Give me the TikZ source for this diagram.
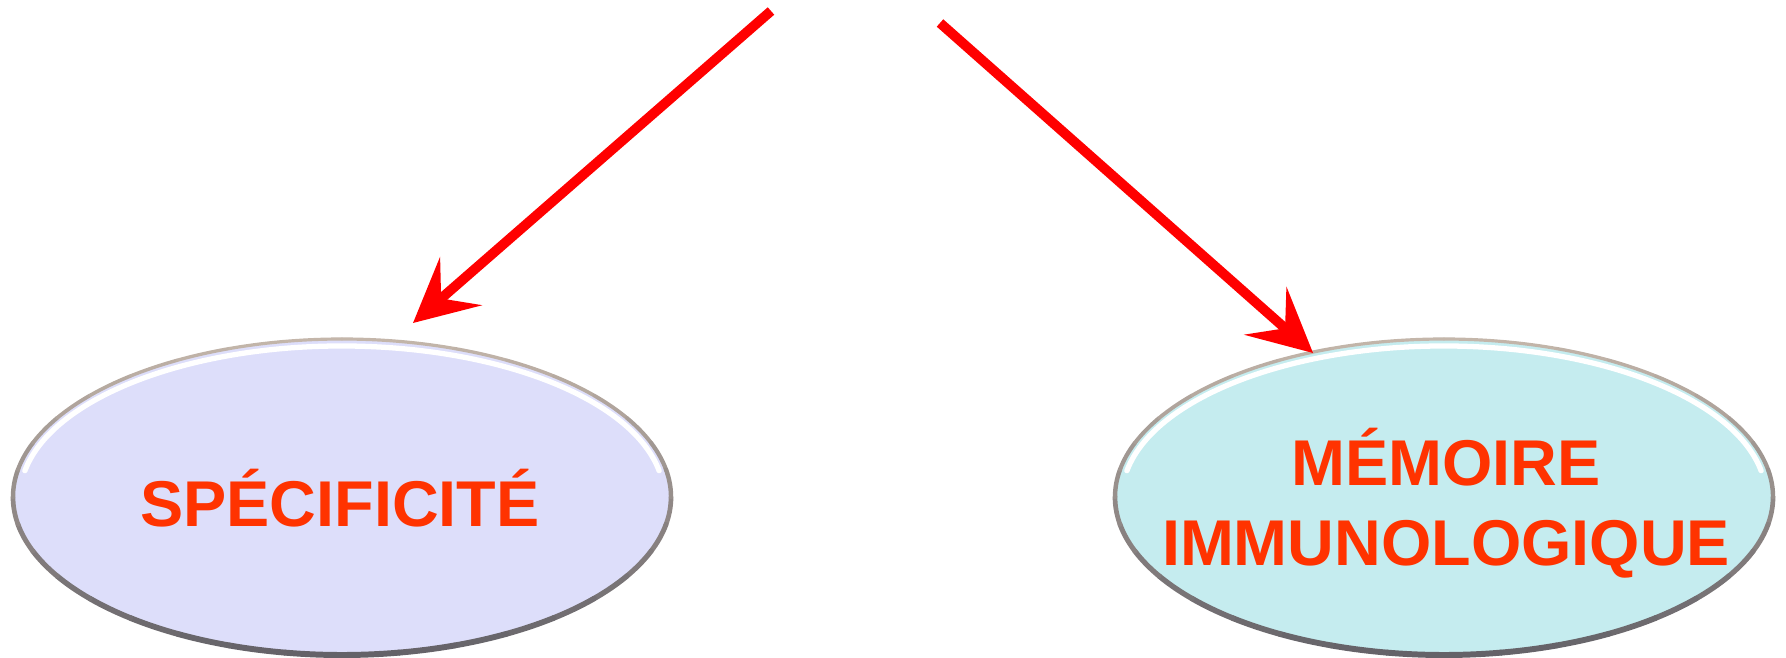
\documentclass[tikz,border=0pt]{standalone}
\usepackage{fontspec}
\setmainfont{Liberation Sans}
\usetikzlibrary{arrows.meta,shapes.geometric}
\definecolor{arrowred}{RGB}{255,0,0}
\definecolor{textred}{RGB}{255,51,0}
\definecolor{lavfill}{RGB}{221,222,250}
\definecolor{cyanfill}{RGB}{197,236,239}
\definecolor{rimtop}{RGB}{196,182,170}
\definecolor{rimbottom}{RGB}{100,98,104}
\tikzset{
  oval/.style={ellipse, draw=none, inner sep=0pt,
    minimum width=6.6cm, minimum height=3.18cm},
  ovaltext/.style={inner sep=0pt, font=\bfseries\fontsize{18.4}{22.6}\selectfont,
    text=textred, align=center},
  bigarrow/.style={draw=arrowred, line width=2.8pt,
    -{Stealth[length=18pt, width=18pt, inset=7.4pt]}},
  highlight/.style={draw=white, line width=1.5pt, line cap=round}
}
\begin{document}
\begin{tikzpicture}[x=0.01cm,y=-0.01cm]
\useasboundingbox (0,0) rectangle (1786,658);
% ovals
\node[oval, fill=lavfill] (spec) at (342,497) {};
\node[oval, fill=cyanfill] (mem) at (1444,497) {};
\foreach \n in {spec,mem}{
  \draw[highlight] (\n.center) ++(190:322 and 151) arc[start angle=190, end angle=350, x radius=322, y radius=151];
  \foreach \a in {0,10,...,350}{
    \pgfmathsetmacro{\p}{50+50*sin(\a+5)}
    \pgfmathsetmacro{\w}{0.9+0.8*\p/100}
    \draw[draw=rimbottom!\p!rimtop, line width=\w pt, line cap=round]
      (\n.center) ++(\a:329 and 158) arc[start angle=\a, end angle=\a+10, x radius=329, y radius=158];
  }
}
\node[ovaltext] (spectext) at (340,498) {SPÉCIFICITÉ};
\node[ovaltext] (memtext) at (1446,503) {MÉMOIRE\\IMMUNOLOGIQUE};
% arrows
\coordinate (s1) at (771,11);
\coordinate (e1) at (413,323);
\coordinate (s2) at (940,23);
\coordinate (e2) at (1313,353);
\draw[bigarrow] (s1) -- (e1);
\draw[bigarrow] (s2) -- (e2);
\end{tikzpicture}
\end{document}
